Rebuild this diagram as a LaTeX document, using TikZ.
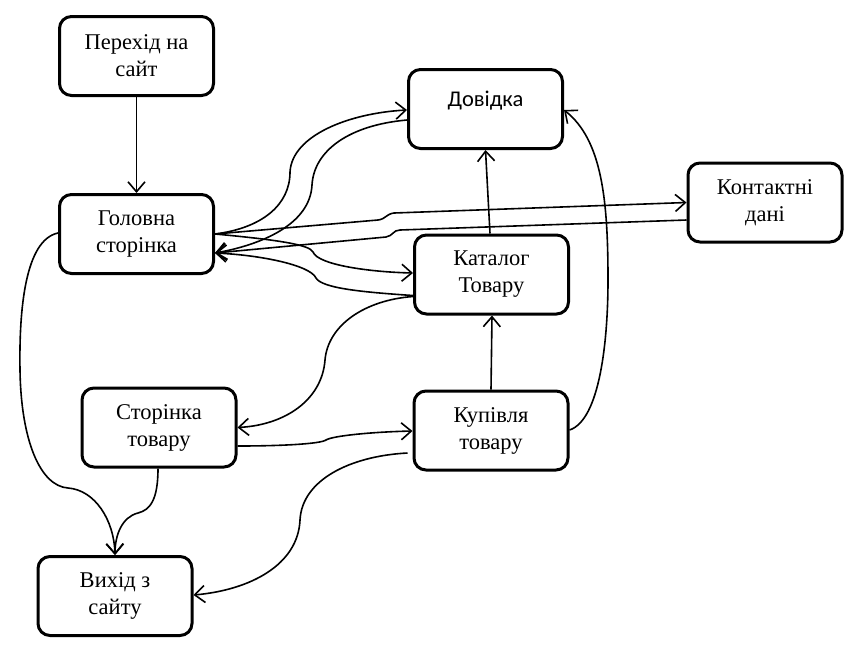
\documentclass[tikz,border=0pt]{standalone}
\usepackage{fontspec}
\setmainfont{Liberation Serif}
\newfontfamily\timesfont{Liberation Serif}
\newfontfamily\calibrifont{Carlito}
\usetikzlibrary{arrows.meta,calc}
\begin{document}
\begin{tikzpicture}[x=1pt,y=-1pt,
  box/.style={draw,line width=3pt,rounded corners=12pt,minimum width=154pt,minimum height=79pt,
    align=center,inner sep=0pt,font=\timesfont\fontsize{22.5}{27}\selectfont},
  conn/.style={line width=1.6pt},
  arr/.style={conn,-{Straight Barb[length=10pt,width=17pt,line width=1.6pt]}}]
\useasboundingbox (0,0) rectangle (861,657);
\node[box] (perehid) at (136.5,56) {\raisebox{-2pt}{Перехід на}\\\raisebox{-2pt}{сайт}};
\node[box] (golovna) at (136.5,234) {\raisebox{-2pt}{Головна}\\\raisebox{-2pt}{сторінка}};
\node[box] (dovidka) at (485.5,109) {\calibrifont\raisebox{20pt}{Довідка}};
\node[box] (kontakt) at (765,202.5) {\raisebox{-2pt}{Контактні}\\\raisebox{-2pt}{дані}};
\node[box] (katalog) at (491.5,274.5) {\raisebox{-2pt}{Каталог}\\\raisebox{-2pt}{Товару}};
\node[box] (storinka) at (159,427.5) {\raisebox{-2pt}{Сторінка}\\\raisebox{-2pt}{товару}};
\node[box] (kupivlia) at (491,430.5) {\raisebox{-2pt}{Купівля}\\\raisebox{-2pt}{товару}};
\node[box] (vyhid) at (115,596) {\raisebox{-2pt}{Вихід з}\\\raisebox{-2pt}{сайту}};
% Перехід -> Головна
\draw[arr] (perehid.south) -- (golovna.north);
% Головна -> Довідка
\draw[arr] (golovna.east) .. controls (262,228) and (290,205) .. (290,172)
  .. controls (292,135) and (350,113) .. ($(dovidka.west)+(0,1)$);
% Довідка -> Головна
\draw[arr] ($(dovidka.west)+(0,11)$) .. controls (350,125) and (314,150) .. (312,185)
  .. controls (310,225) and (260,245) .. ($(golovna.east)+(0,19)$);
% Головна -> Контактні
\draw[arr] (golovna.east) -- (378,220) .. controls (386,219) and (386,214) .. (394,213) -- (kontakt.west);
% Контактні -> Головна
\draw[arr] ($(kontakt.west)+(0,17.5)$) -- (400,230) .. controls (393,230) and (393,236) .. (386,237)
  -- ($(golovna.east)+(0,19)$);
% Головна -> Каталог
\draw[arr] (golovna.east) .. controls (280,240) and (310,245) .. (313,252)
  .. controls (318,265) and (370,272) .. ($(katalog.west)+(0,-1.5)$);
% Каталог -> Головна
\draw[arr] ($(katalog.west)+(0,21)$) .. controls (360,292) and (322,288) .. (316,278)
  .. controls (310,265) and (260,255) .. ($(golovna.east)+(0,19)$);
% Каталог -> Довідка
\draw[arr] ($(katalog.north)+(-1.5,0)$) -- (dovidka.south);
% Купівля -> Каталог
\draw[arr] (kupivlia.north) -- ($(katalog.south)+(0.5,0)$);
% Купівля -> Довідка
\draw[arr] ($(kupivlia.east)+(0,-0.5)$) .. controls (600,420) and (608,340) .. (608,280)
  .. controls (608,200) and (602,140) .. ($(dovidka.east)+(0,1)$);
% Каталог -> Сторінка
\draw[arr] ($(katalog.west)+(0,22)$) .. controls (365,300) and (328,325) .. (325,360)
  .. controls (322,400) and (285,425) .. (storinka.east);
% Сторінка -> Купівля
\draw[arr] ($(storinka.east)+(0,18.5)$) .. controls (280,446) and (320,444) .. (326,440)
  .. controls (332,436) and (370,432) .. ($(kupivlia.west)+(0,0.5)$);
% Купівля -> Вихід
\draw[arr] ($(kupivlia.west)+(-5,22.5)$) .. controls (350,456) and (302,480) .. (300,520)
  .. controls (298,565) and (250,590) .. ($(vyhid.east)+(0,-1)$);
% Головна -> Вихід
\draw[arr] ($(golovna.west)+(0,-1)$) .. controls (25,240) and (19,310) .. (20,370)
  .. controls (21,440) and (40,486) .. (68,488) .. controls (95,490) and (114,520) .. (vyhid.north);
% Сторінка -> Вихід
\draw[arr] ($(storinka.south)+(-1,0)$) .. controls (158,500) and (150,510) .. (138,513)
  .. controls (122,517) and (115,535) .. (vyhid.north);
\end{tikzpicture}
\end{document}
